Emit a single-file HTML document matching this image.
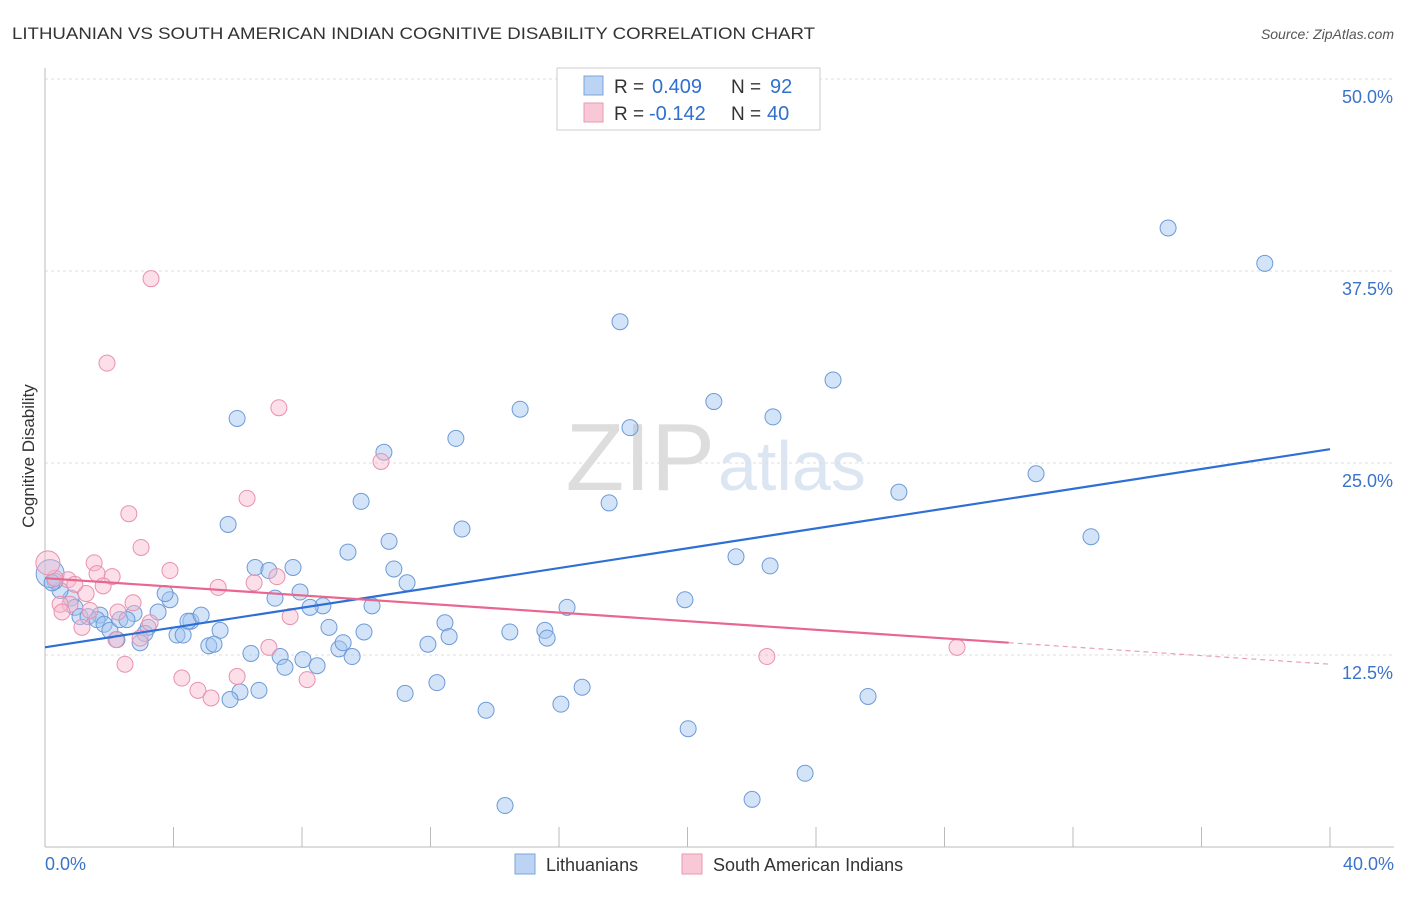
<!DOCTYPE html>
<html><head><meta charset="utf-8"><style>
body{margin:0;background:#fff;font-family:"Liberation Sans",sans-serif;}
svg text{font-family:"Liberation Sans",sans-serif;}
</style></head><body>
<svg id="c" width="1406" height="892" viewBox="0 0 1406 892">
<text x="12" y="39" font-size="17" fill="#333" textLength="803" lengthAdjust="spacingAndGlyphs">LITHUANIAN VS SOUTH AMERICAN INDIAN COGNITIVE DISABILITY CORRELATION CHART</text>
<text x="1394" y="39" font-size="14" fill="#555" font-style="italic" text-anchor="end">Source: ZipAtlas.com</text>
<text x="715" y="490" font-size="96" fill="#ddd" text-anchor="end" font-family="Liberation Serif">ZIP</text>
<text x="718" y="490" font-size="70" fill="#dce6f3">atlas</text>
<g id="grid"></g><g id="pts"></g><g id="lines"></g>
<text transform="translate(34,456) rotate(-90)" font-size="17" fill="#333" text-anchor="middle">Cognitive Disability</text>
<text x="45" y="870" font-size="18" fill="#3b73c9">0.0%</text>
<text x="1394" y="870" font-size="18" fill="#3b73c9" text-anchor="end">40.0%</text>
<g>
<rect x="557" y="68" width="263" height="62" fill="#fff" stroke="#ccc"/>
<rect x="584" y="76" width="19" height="19" fill="#bcd3f3" stroke="#7ba4dc"/>
<rect x="584" y="103" width="19" height="19" fill="#f9c8d7" stroke="#e89ab3"/>
<text x="614" y="93" font-size="19" fill="#333">R =</text>
<text x="652" y="93" font-size="20" fill="#2f6fd0">0.409</text>
<text x="731" y="93" font-size="19" fill="#333">N =</text>
<text x="770" y="93" font-size="20" fill="#2f6fd0">92</text>
<text x="614" y="120" font-size="19" fill="#333">R =</text>
<text x="649" y="120" font-size="20" fill="#2f6fd0">-0.142</text>
<text x="731" y="120" font-size="19" fill="#333">N =</text>
<text x="767" y="120" font-size="20" fill="#2f6fd0">40</text>
</g>
<g>
<rect x="515" y="854" width="20" height="20" fill="#bcd3f3" stroke="#7ba4dc"/>
<text x="546" y="871" font-size="18" fill="#333">Lithuanians</text>
<rect x="682" y="854" width="20" height="20" fill="#f9c8d7" stroke="#e89ab3"/>
<text x="713" y="871" font-size="18" fill="#333">South American Indians</text>
</g>
</svg>
<script>
const yTicks=[12.5,25,37.5,50];
const yTickLabels=["12.5%","25.0%","37.5%","50.0%"];
const xTicks=[0,4,8,12,16,20,24,28,32,36,40];
const blueX=[34.96,37.97,17.90,24.53,20.82,14.79,22.66,18.21,12.79,10.55,5.98,26.58,30.85,17.56,9.84,12.98,5.70,32.56,9.43,10.71,21.51,22.57,6.54,7.72,6.97,10.86,11.27,7.94,7.16,8.65,8.25,10.18,16.25,19.92,3.89,3.74,3.52,2.77,1.71,0.81,0.47,0.31,0.16,0.22,0.93,1.09,1.34,1.62,1.84,2.02,2.33,2.55,3.21,3.11,4.11,4.30,4.54,4.45,4.86,5.45,5.10,5.26,6.41,7.32,7.47,8.03,8.47,8.84,9.15,9.28,9.56,9.93,12.45,12.58,11.92,14.47,15.56,15.63,12.20,11.21,16.06,16.72,13.73,25.62,20.02,23.66,22.01,14.32,6.07,6.66,5.76,2.96,2.24];
const blueY=[40.3,38.0,34.2,30.4,29.0,28.5,28.0,27.3,26.6,25.7,27.9,23.1,24.3,22.4,22.5,20.7,21.0,20.2,19.2,19.9,18.9,18.3,18.2,18.2,18.0,18.1,17.2,16.6,16.2,15.7,15.6,15.7,15.6,16.1,16.1,16.5,15.3,15.2,15.1,16.2,16.7,17.3,17.8,17.2,15.6,15.0,15.0,14.8,14.5,14.1,14.8,14.8,14.3,13.9,13.8,13.8,14.7,14.7,15.1,14.1,13.1,13.2,12.6,12.4,11.7,12.2,11.8,14.3,12.9,13.3,12.4,14.0,14.6,13.7,13.2,14.0,14.1,13.6,10.7,10.0,9.3,10.4,8.9,9.8,7.7,4.8,3.1,2.7,10.1,10.2,9.6,13.3,13.5];
const pinkX=[3.30,1.93,7.28,10.46,6.29,2.61,2.99,1.53,3.89,1.62,2.09,0.72,0.31,0.09,7.22,6.51,5.39,1.81,1.28,0.78,0.47,2.74,1.40,2.27,3.27,7.63,1.15,2.96,2.21,6.97,2.49,4.26,5.98,8.16,4.76,5.17,22.47,28.39,0.93,0.53];
const pinkY=[37.0,31.5,28.6,25.1,22.7,21.7,19.5,18.5,18.0,17.8,17.6,17.4,17.5,18.5,17.6,17.2,16.9,17.0,16.5,15.8,15.8,15.9,15.4,15.3,14.6,15.0,14.3,13.6,13.5,13.0,11.9,11.0,11.1,10.9,10.2,9.7,12.4,13.0,17.1,15.3];
const blueTrendX=[0,40], blueTrendY=[13.0,25.9];
const pinkTrendX=[0,30,40], pinkTrendY=[17.5,13.3,11.9];
const X=v=>45+v/40*1285, Y=v=>847-v/12.5*192;
const NS="http://www.w3.org/2000/svg";
function mk(tag,attrs,parent){const e=document.createElementNS(NS,tag);for(const k in attrs)e.setAttribute(k,attrs[k]);parent.appendChild(e);return e;}
const grid=document.getElementById('grid');
yTicks.forEach((t,i)=>{
 const l=mk('line',{x1:45,x2:1394,y1:Y(t),y2:Y(t),stroke:'#ddd','stroke-dasharray':'3,3'},grid);
 
 
 const tx=mk('text',{x:1393,y:Y(t)+24,'font-size':18,fill:'#3b73c9','text-anchor':'end'},grid);
 tx.textContent=yTickLabels[i];
 
 
});
const ax=mk('line',{x1:45,x2:45,y1:68,y2:847,stroke:'#bbb'},grid);


const bx=mk('line',{x1:45,x2:1394,y1:847,y2:847,stroke:'#bbb'},grid);


xTicks.forEach(t=>{const l=mk('line',{x1:X(t),x2:X(t),y1:827,y2:847,stroke:'#bbb'},grid);
 
 });
const pts=document.getElementById('pts');
blueX.forEach((v,i)=>{const c=mk('circle',{cx:X(v),cy:Y(blueY[i]),r:i==42?14:8,fill:'rgba(160,195,240,0.45)',stroke:'#6d9ad8','stroke-width':1},pts);
 
 });
pinkX.forEach((v,i)=>{const c=mk('circle',{cx:X(v),cy:Y(pinkY[i]),r:i==13?12:8,fill:'rgba(248,185,205,0.45)',stroke:'#e891ae','stroke-width':1},pts);
 
 });
const lines=document.getElementById('lines');
const bl=mk('line',{x1:X(blueTrendX[0]),y1:Y(blueTrendY[0]),x2:X(blueTrendX[1]),y2:Y(blueTrendY[1]),stroke:'#2e6fd6','stroke-width':2.2},lines);


const pl=mk('line',{x1:X(pinkTrendX[0]),y1:Y(pinkTrendY[0]),x2:X(pinkTrendX[1]),y2:Y(pinkTrendY[1]),stroke:'#e8668f','stroke-width':2.2},lines);


const pd=mk('line',{x1:X(pinkTrendX[1]),y1:Y(pinkTrendY[1]),x2:X(pinkTrendX[2]),y2:Y(pinkTrendY[2]),stroke:'#e8a0b8','stroke-width':1.2,'stroke-dasharray':'5,4'},lines);


</script>
</body></html>
